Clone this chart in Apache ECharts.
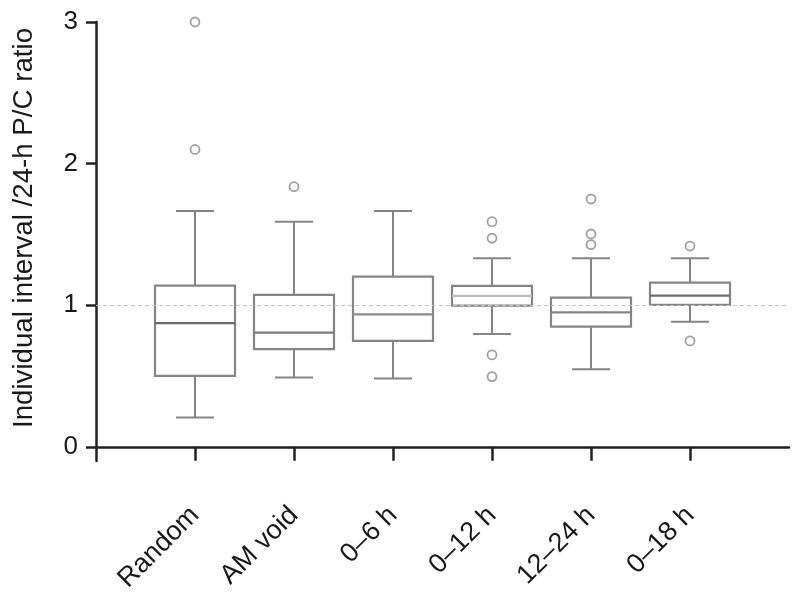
<!DOCTYPE html>
<html>
<head>
<meta charset="utf-8">
<script src="https://cdn.jsdelivr.net/npm/echarts@6/dist/echarts.min.js"></script>
<style>html,body{margin:0;padding:0;background:#fff;}#c{width:800px;height:599px;}</style>
</head>
<body>
<div id="c"></div>
<script>
const categories = ['Random', 'AM void', '0–6 h', '0–12 h', '12–24 h', '0–18 h'];
// [lower whisker, Q1, median, Q3, upper whisker]
const boxValues = [
  [0.207, 0.501, 0.873, 1.138, 1.666],
  [0.489, 0.690, 0.807, 1.073, 1.590],
  [0.482, 0.748, 0.936, 1.202, 1.666],
  [0.797, 0.997, 1.066, 1.136, 1.332],
  [0.548, 0.849, 0.950, 1.054, 1.332],
  [0.884, 1.002, 1.068, 1.160, 1.332]
];
// outliers: [category name, value]
const outliers = [
  ['Random', 3.0], ['Random', 2.10],
  ['AM void', 1.837],
  ['0–12 h', 1.59], ['0–12 h', 1.473], ['0–12 h', 0.649], ['0–12 h', 0.496],
  ['12–24 h', 1.75], ['12–24 h', 1.503], ['12–24 h', 1.428],
  ['0–18 h', 1.418], ['0–18 h', 0.748]
];
const yTicks = [0, 1, 2, 3];
const refValue = 1;
const yTitle = 'Individual interval /24-h P/C ratio';

const xPositions = categories.map((c, i) => i + 1);
const boxData = boxValues.map((b, i) => [i + 1].concat(b));
const outlierData = outliers.map(o => [categories.indexOf(o[0]) + 1, o[1]]);

const chart = echarts.init(document.getElementById('c'), null, {renderer: 'canvas'});
const boxColor = '#858585';
const medianColors = ['#6a6a6a', '#7d7d7d', '#8a8a8a', '#bdbdbd', '#858585', '#6f6f6f'];
const font = 'Liberation Sans';

chart.setOption({
  animation: false,
  backgroundColor: '#fff',
  grid: {left: 96, right: 11, top: 22, bottom: 138},
  xAxis: {
    type: 'value',
    min: 0,
    max: categories.length + 1,
    axisLine: {lineStyle: {color: '#222', width: 2.5}},
    axisTick: {show: true, length: 14, customValues: xPositions, lineStyle: {color: '#222', width: 2.5}},
    axisLabel: {customValues: xPositions, formatter: v => categories[Math.round(v) - 1] || '',
      rotate: 45, fontSize: 27, color: '#1a1a1a', fontFamily: font, margin: 50},
    splitLine: {show: false}
  },
  yAxis: {
    type: 'value',
    min: -0.1,
    max: 3,
    axisLine: {show: true, lineStyle: {color: '#222', width: 2.5}},
    axisTick: {show: true, length: 10, customValues: yTicks, lineStyle: {color: '#222', width: 2.5}},
    axisLabel: {customValues: yTicks, fontSize: 26, color: '#1a1a1a', fontFamily: font, margin: 18},
    splitLine: {show: false}
  },
  graphic: [{
    type: 'text',
    x: 24, y: 228,
    rotation: Math.PI / 2,
    style: {text: yTitle, fontSize: 27.7, fontFamily: font, fill: '#1a1a1a', align: 'center', verticalAlign: 'middle'}
  }],
  series: [
    {
      type: 'custom',
      data: boxData,
      renderItem: function (params, api) {
        const x = api.value(0);
        const lo = api.coord([x, api.value(1)]);
        const q1 = api.coord([x, api.value(2)]);
        const md = api.coord([x, api.value(3)]);
        const q3 = api.coord([x, api.value(4)]);
        const hi = api.coord([x, api.value(5)]);
        const cx = lo[0];
        const hw = 40, cw = 19;
        const st = {stroke: boxColor, lineWidth: 2, fill: null};
        return {
          type: 'group',
          children: [
            {type: 'rect', shape: {x: cx - hw, y: q3[1], width: hw * 2, height: q1[1] - q3[1]}, style: {stroke: boxColor, lineWidth: 2.2, fill: 'rgba(255,255,255,0)'}},
            {type: 'line', shape: {x1: cx - hw, y1: md[1], x2: cx + hw, y2: md[1]}, style: {stroke: medianColors[params.dataIndex], lineWidth: 2.2}},
            {type: 'line', shape: {x1: cx, y1: q3[1], x2: cx, y2: hi[1]}, style: st},
            {type: 'line', shape: {x1: cx, y1: q1[1], x2: cx, y2: lo[1]}, style: st},
            {type: 'line', shape: {x1: cx - cw, y1: hi[1], x2: cx + cw, y2: hi[1]}, style: st},
            {type: 'line', shape: {x1: cx - cw, y1: lo[1], x2: cx + cw, y2: lo[1]}, style: st}
          ]
        };
      },
      markLine: {
        silent: true,
        symbol: 'none',
        label: {show: false},
        lineStyle: {color: '#c4c4c4', type: [4, 3], width: 1},
        data: [{yAxis: refValue}]
      },
      z: 3
    },
    {
      type: 'scatter',
      data: outlierData,
      symbol: 'circle',
      symbolSize: 9,
      itemStyle: {color: '#fff', borderColor: '#8a8a8a', borderWidth: 1.8},
      z: 4
    }
  ]
});
</script>
</body>
</html>
